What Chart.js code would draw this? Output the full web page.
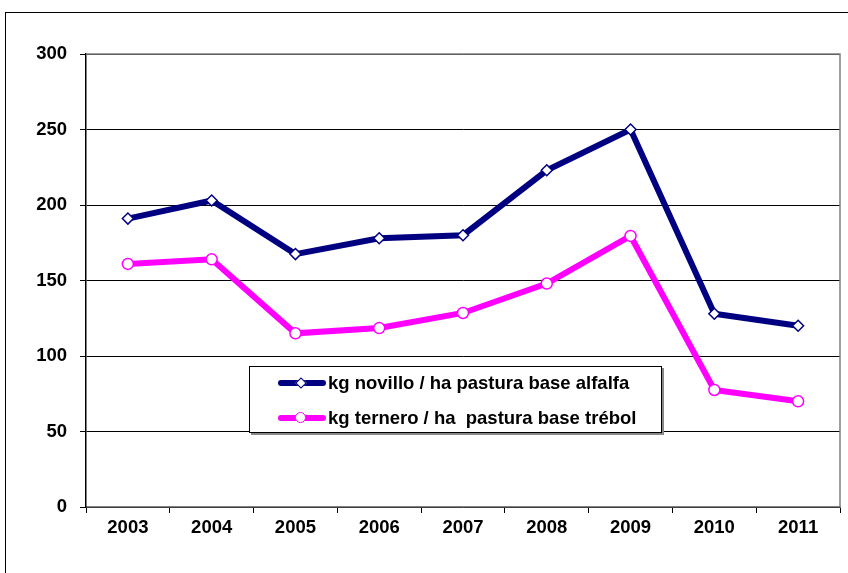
<!DOCTYPE html>
<html lang="es">
<head>
    <meta charset="UTF-8">
    <title>kg / ha pastura</title>
    <script src="https://cdn.jsdelivr.net/npm/chart.js"></script>
    <style>
        body {
            margin: 0;
            background: #fff;
            font-family: 'Liberation Sans', Arial, sans-serif;
        }
        .wrap {
            position: relative;
            width: 848px;
            height: 573px;
            overflow: hidden;
        }
        .frame {
            position: absolute;
            left: 5px;
            top: 12px;
            width: 900px;
            height: 600px;
            border: 1.5px solid #000;
        }
        canvas {
            position: absolute;
            left: 0;
            top: 0;
        }
        .legend {
            position: absolute;
            left: 249px;
            top: 366px;
            width: 411px;
            height: 65px;
            background: #fff;
            border: 1px solid #000;
            box-shadow: 2px 2px 0 #888;
        }
        .item {
            position: absolute;
            left: 28px;
            height: 22px;
            font-weight: bold;
            font-size: 18.5px;
            line-height: 22px;
            white-space: pre;
        }
        .sample {
            position: absolute;
            left: 0;
            top: 8px;
            width: 48px;
            height: 6px;
            border-radius: 3px;
        }
        .mk {
            position: absolute;
            background: #fff;
        }
        .label {
            position: absolute;
            left: 50px;
            top: 0;
        }
    </style>
</head>
<body>
<div class="wrap">
    <div class="frame"></div>
    <canvas id="chart" width="848" height="573"></canvas>
    <div class="legend" id="legend"></div>
</div>

<script>
    // data
    const years = ['2003', '2004', '2005', '2006', '2007', '2008', '2009', '2010', '2011'];
    const novillo = [191, 203, 167.5, 178, 180, 223, 250, 128, 120];
    const ternero = [161, 164, 115, 118.5, 128.5, 148, 179.5, 77.5, 70];
    const seriesNames = ['kg novillo / ha pastura base alfalfa', 'kg ternero / ha  pastura base trébol'];
    const yTicks = [0, 50, 100, 150, 200, 250, 300];

    const navy = '#000080';
    const magenta = '#FF00FF';
    const tickFont = { family: "'Liberation Sans', Arial, sans-serif", size: 18.5, weight: 'bold' };

    // grey frame round the plot area (top and right)
    const plotFrame = {
        id: 'plotFrame',
        beforeDatasetsDraw(chart) {
            const a = chart.chartArea;
            const c = chart.ctx;
            c.save();
            c.strokeStyle = '#808080';
            c.lineWidth = 1.5;
            c.beginPath();
            c.moveTo(a.left, a.top);
            c.lineTo(a.right, a.top);
            c.lineTo(a.right, a.bottom);
            c.stroke();
            c.restore();
        }
    };

    new Chart(document.getElementById('chart'), {
        type: 'line',
        data: {
            labels: years,
            datasets: [{
                label: seriesNames[0],
                data: novillo,
                borderColor: navy,
                borderWidth: 6,
                pointStyle: 'rectRot',
                pointRadius: 5.5,
                pointBorderWidth: 1.5,
                pointBackgroundColor: '#fff',
                pointBorderColor: navy,
                tension: 0
            }, {
                label: seriesNames[1],
                data: ternero,
                borderColor: magenta,
                borderWidth: 6,
                pointStyle: 'circle',
                pointRadius: 5.5,
                pointBorderWidth: 1.5,
                pointBackgroundColor: '#fff',
                pointBorderColor: magenta,
                tension: 0
            }]
        },
        options: {
            responsive: false,
            animation: false,
            layout: { padding: { left: 0, top: 54, right: 8, bottom: 0 } },
            plugins: {
                legend: { display: false },
                tooltip: { enabled: false }
            },
            scales: {
                x: {
                    offset: true,
                    afterFit(s) { s.height = 66; },
                    grid: {
                        offset: true,
                        drawOnChartArea: false,
                        drawTicks: true,
                        tickLength: 6,
                        tickColor: '#000',
                        tickWidth: 1
                    },
                    border: { color: '#808080', width: 1.5 },
                    ticks: { color: '#000', font: tickFont, padding: 4, maxRotation: 0 }
                },
                y: {
                    min: 0,
                    max: 300,
                    afterFit(s) { s.width = 86; },
                    afterBuildTicks(s) { s.ticks = yTicks.map(v => ({ value: v })); },
                    grid: {
                        color: '#000',
                        lineWidth: 1,
                        borderDash: [1, 1],
                        drawTicks: true,
                        tickLength: 6,
                        tickColor: '#000',
                        tickBorderDash: []
                    },
                    border: { color: '#000', width: 1.5 },
                    ticks: { color: '#000', font: tickFont, padding: 13 }
                }
            }
        },
        plugins: [plotFrame]
    });

    // legend inside the plot, as html text
    const legend = document.getElementById('legend');
    const styles = [
        { color: navy, diamond: true },
        { color: magenta, diamond: false }
    ];
    seriesNames.forEach((name, i) => {
        const item = document.createElement('div');
        item.className = 'item';
        item.style.top = (i === 0 ? 5 : 40) + 'px';
        const sample = document.createElement('div');
        sample.className = 'sample';
        sample.style.background = styles[i].color;
        const mk = document.createElement('div');
        mk.className = 'mk';
        if (styles[i].diamond) {
            mk.style.cssText += 'left:19px;top:-1px;width:6px;height:6px;transform:rotate(45deg);border:1.5px solid ' + navy + ';';
        } else {
            mk.style.cssText += 'left:17px;top:-3px;width:9px;height:9px;border-radius:50%;border:1.5px solid ' + magenta + ';';
        }
        sample.appendChild(mk);
        const label = document.createElement('span');
        label.className = 'label';
        label.textContent = name;
        item.appendChild(sample);
        item.appendChild(label);
        legend.appendChild(item);
    });
</script>
</body>
</html>
